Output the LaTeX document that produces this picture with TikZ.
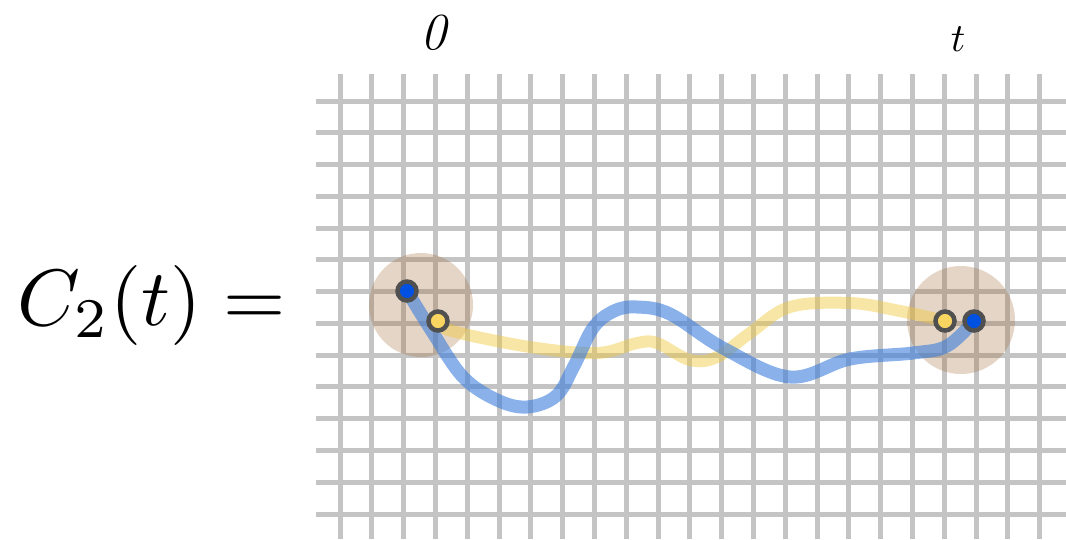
\documentclass[tikz,border=0pt]{standalone}
\usepackage{graphicx}
\usepackage{amsmath}
\definecolor{gridgray}{RGB}{196,196,196}
\definecolor{disc}{RGB}{160,105,50}
\definecolor{pathblue}{RGB}{60,125,220}
\definecolor{pathyellow}{RGB}{240,200,60}
\definecolor{dotblue}{RGB}{0,80,225}
\definecolor{dotyellow}{RGB}{248,212,96}
\definecolor{ringgray}{RGB}{80,80,80}
\begin{document}
\begin{tikzpicture}[x=1pt,y=-1pt,
  gridline/.style={draw=gridgray,line width=5pt},
  blob/.style={circle,fill=disc,fill opacity=0.28,inner sep=0pt,draw=none},
  dot/.style={circle,draw=ringgray,line width=4.5pt,inner sep=0pt,minimum size=19pt},
  bluepath/.style={draw=pathblue,draw opacity=0.6,line width=13pt,line cap=round},
  yellowpath/.style={draw=pathyellow,draw opacity=0.45,line width=12pt,line cap=round}]
\useasboundingbox (0,0) rectangle (1066,539);
% grid
\foreach \k in {0,...,22}{
  \draw[gridline] ({340+31.8*\k},74) -- ({340+31.8*\k},539);
}
\foreach \j in {0,...,13}{
  \draw[gridline] (316,{101+31.77*\j}) -- (1066,{101+31.77*\j});
}
% labels
\node[anchor=base west,inner sep=0pt] (lhs) at (17,325) {\scalebox{8}{$C_2(t) =$}};
\node[inner sep=0pt] (zero) at (435,33) {\fontsize{52}{60}\selectfont\textit{0}};
\node[inner sep=0pt] (tlab) at (958,39) {\scalebox{4}{$t$}};
% discs
\node[blob,minimum size=104pt] (lc) at (421,305) {};
\node[blob,minimum size=108pt] (rc) at (961,320) {};
% dot positions
\coordinate (bl) at (407,291);
\coordinate (yl) at (438,321);
\coordinate (yr) at (945,321);
\coordinate (br) at (974,321);
% paths
\draw[yellowpath] plot[smooth,tension=0.6] coordinates {(yl) (452,331) (530,347) (597,353) (637,343) (657,343) (690,360) (717,357) (750,333) (790,307) (850,303) (900,311) (yr)};
\draw[bluepath] plot[smooth,tension=0.6] coordinates {(bl) (433,333) (463,377) (497,400) (527,407) (556,396) (574,366) (593,328) (614,311) (637,307) (670,314) (723,348) (790,377) (850,359) (913,353) (947,346) (br)};
% dots
\node[dot,fill=dotblue] (blnode) at (bl) {};
\node[dot,fill=dotyellow] (ylnode) at (yl) {};
\node[dot,fill=dotyellow] (yrnode) at (yr) {};
\node[dot,fill=dotblue] (brnode) at (br) {};
\end{tikzpicture}
\end{document}
